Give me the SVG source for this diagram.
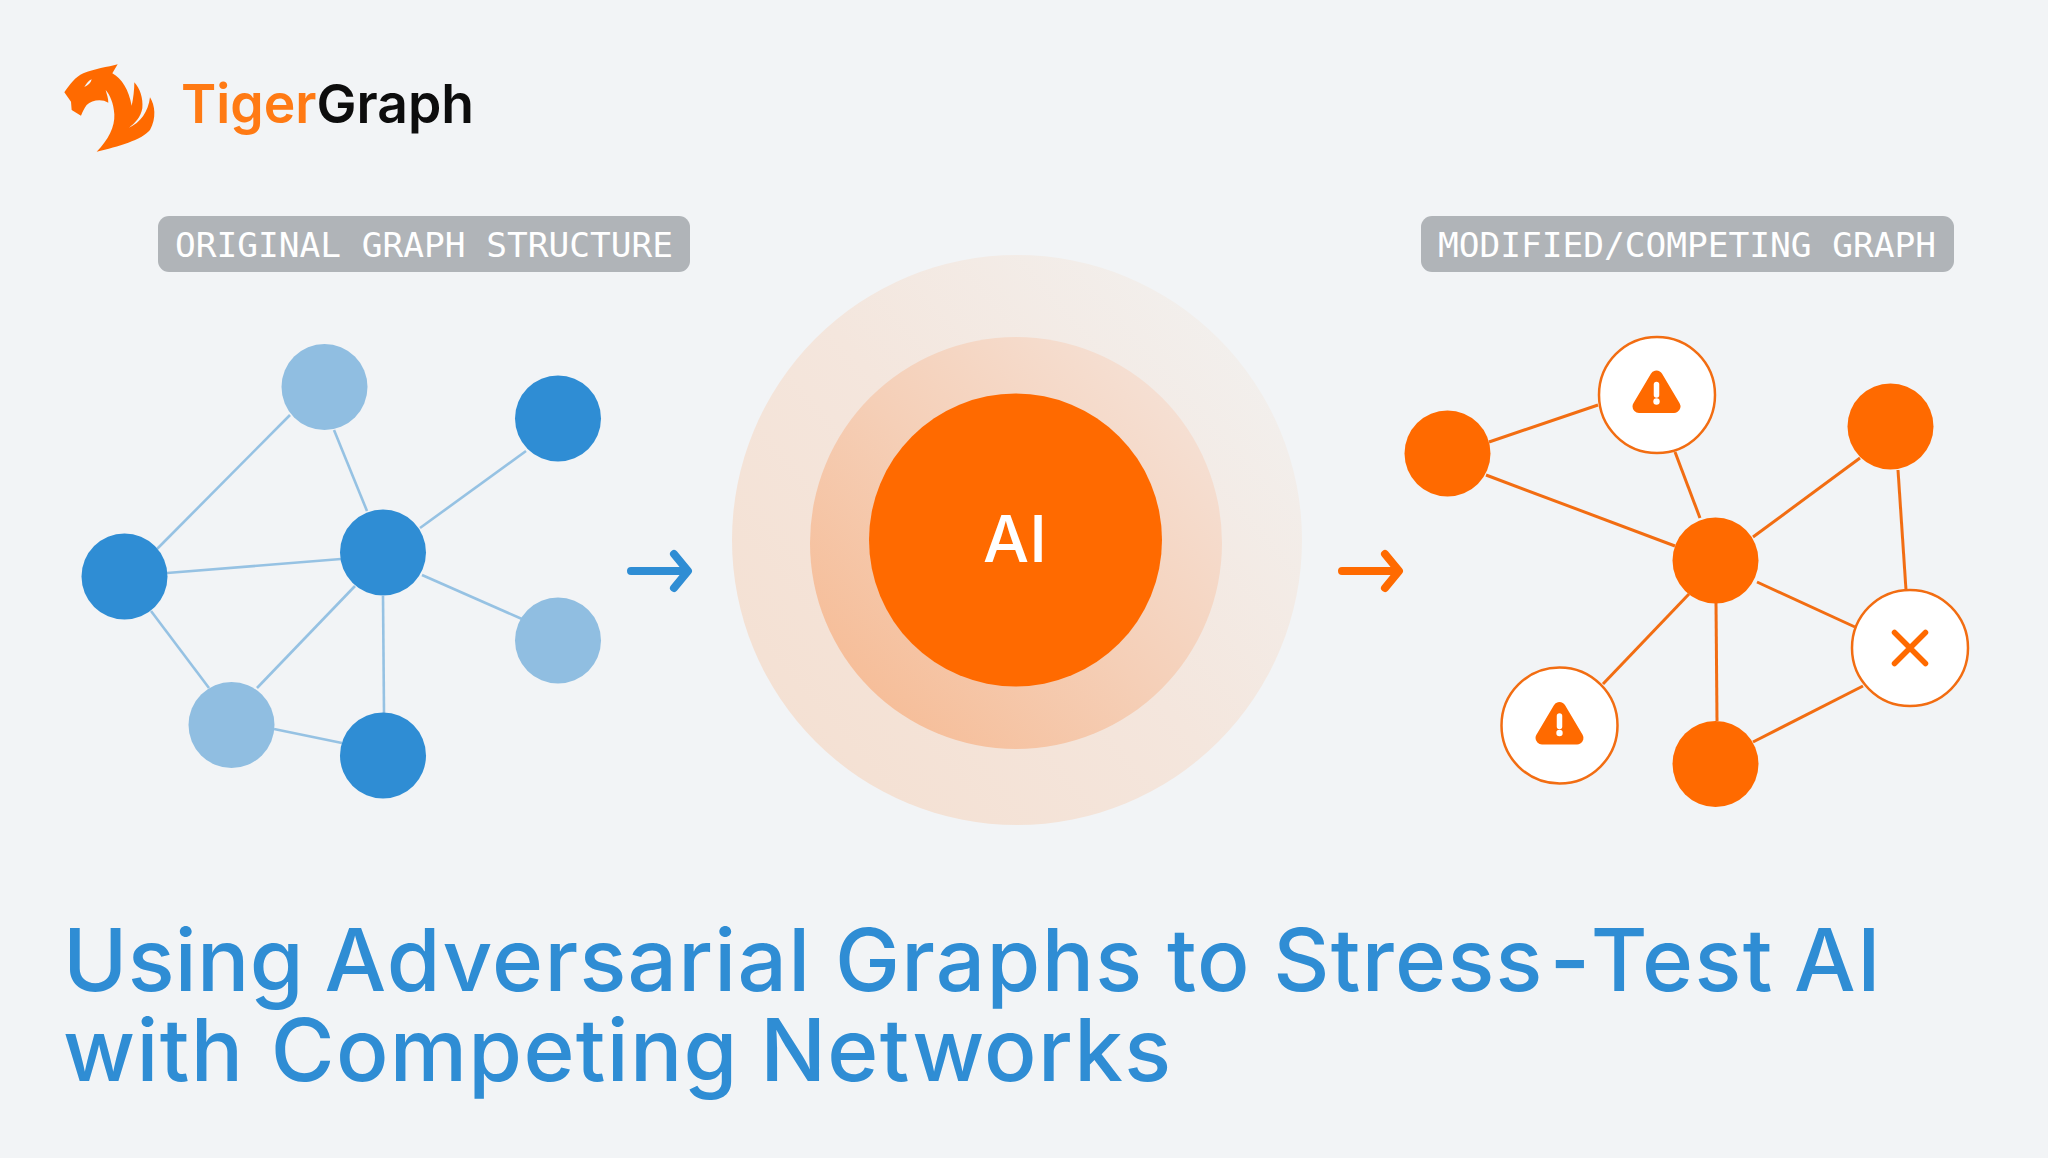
<svg xmlns="http://www.w3.org/2000/svg" xmlns:xlink="http://www.w3.org/1999/xlink" width="2048" height="1158" viewBox="0 0 2048 1158">
<style>
.bg{fill:#f2f4f6}
.dark{fill:#2f8dd4}
.light{fill:#90bee1}
.or{fill:#ff6a00}
.ring{fill:#fff;stroke:#f26d12;stroke-width:2.5}
.bl{stroke:#96c2e3;stroke-width:2.6;fill:none}
.ol{stroke:#f26d12;stroke-width:3;fill:none}
.arrow{fill:none;stroke-width:8;stroke-linecap:round;stroke-linejoin:round}
.tag{fill:#b0b4b8}
.tagt{font-family:"DejaVu Sans Mono",monospace;font-size:34.500px;fill:#fff;font-weight:400}
.title{font-family:Inter,"Liberation Sans",sans-serif;font-size:87px;font-weight:500;fill:#2f8dd4;letter-spacing:1.300px}
</style>
<defs>
<linearGradient id="g1" x1="0.1" y1="0.9" x2="0.95" y2="0.15"><stop offset="0" stop-color="#f4e0d2"/><stop offset="0.5" stop-color="#f4e6dd"/><stop offset="1" stop-color="#f2f0ee"/></linearGradient>
<linearGradient id="g2" x1="0.1" y1="0.9" x2="0.9" y2="0.15"><stop offset="0" stop-color="#f6bc96"/><stop offset="0.5" stop-color="#f5cfb7"/><stop offset="1" stop-color="#f5e0d4"/></linearGradient>
<g id="warn"><path d="M0 -17 L17.500 12.500 L-17.500 12.500 Z" fill="#ff6a00" stroke="#ff6a00" stroke-width="13" stroke-linejoin="round"/><path d="M0 -9.500V1" stroke="#fff" stroke-width="5.500" stroke-linecap="round"/><circle cx="0" cy="7.500" r="3.200" fill="#fff"/></g>
</defs>
<rect class="bg" width="2048" height="1158"/>
<g id="logo">
<path class="or" transform="translate(55 55) scale(.3333)" fill-rule="evenodd" d="M28 112 C45 88 60 66 85 55 C115 42 160 36 188 28 L172 55 C200 70 222 105 230 152 C235 130 238 105 238 82 C255 100 265 130 262 160 C258 185 240 205 222 218 C255 205 280 170 285 127 C300 150 305 190 285 225 C260 255 190 275 125 290 C160 255 180 215 178 178 C176 145 165 120 152 105 C156 120 160 130 160 143 C140 130 110 135 95 150 C88 160 82 172 78 182 L50 165 L48 140 Z M88 96 C95 84 102 76 110 73 C108 84 100 90 88 96 Z"/>
<text x="181" y="123" font-family="Inter,sans-serif" font-size="54" font-weight="600" textLength="293" lengthAdjust="spacingAndGlyphs"><tspan fill="#ff7a14">Tiger</tspan><tspan fill="#0d0d0d">Graph</tspan></text>
</g>
<g id="label-original"><rect class="tag" x="158" y="216" width="532" height="56" rx="11"/><text class="tagt" x="175" y="257" textLength="498">ORIGINAL GRAPH STRUCTURE</text></g>
<g id="label-modified"><rect class="tag" x="1421" y="216" width="533" height="56" rx="11"/><text class="tagt" x="1438" y="257" textLength="498">MODIFIED/COMPETING GRAPH</text></g>
<g id="connectors">
<g class="bl">
<line x1="290" y1="415" x2="157" y2="549"/>
<line x1="334" y1="430" x2="367" y2="511"/>
<line x1="420" y1="528" x2="526" y2="451"/>
<line x1="167" y1="573" x2="341" y2="559"/>
<line x1="151" y1="611" x2="209" y2="688"/>
<line x1="355" y1="586" x2="257" y2="688"/>
<line x1="422" y1="575" x2="522" y2="619"/>
<line x1="383" y1="596" x2="384" y2="713"/>
<line x1="274" y1="729" x2="342" y2="743"/>
</g>
<g class="ol">
<line x1="1489" y1="442" x2="1598" y2="405"/>
<line x1="1486" y1="475" x2="1675" y2="546"/>
<line x1="1675" y1="452" x2="1700" y2="518"/>
<line x1="1753" y1="537" x2="1860" y2="458"/>
<line x1="1898" y1="470" x2="1906" y2="590"/>
<line x1="1757" y1="582" x2="1855" y2="627"/>
<line x1="1689" y1="594" x2="1603" y2="684"/>
<line x1="1716" y1="603" x2="1717" y2="721"/>
<line x1="1753" y1="742" x2="1863" y2="686"/>
</g>
<path class="arrow" stroke="#2f8dd4" d="M631 571H686M674 554L688 571L674 588"/>
<path class="arrow" stroke="#ff6a00" d="M1342 571H1397M1385 554L1399 571L1385 588"/>
</g>
<g id="n-a"><circle class="light" cx="324.500" cy="387" r="43"/></g>
<g id="n-b"><circle class="dark" cx="558" cy="418.500" r="43"/></g>
<g id="n-c"><circle class="dark" cx="124.500" cy="576.500" r="43"/></g>
<g id="n-d"><circle class="dark" cx="383" cy="552.500" r="43"/></g>
<g id="n-e"><circle class="light" cx="558" cy="640.500" r="43"/></g>
<g id="n-f"><circle class="light" cx="231.500" cy="725" r="43"/></g>
<g id="n-g"><circle class="dark" cx="383" cy="755.500" r="43"/></g>
<g id="ai">
<circle cx="1017" cy="540" r="285" fill="url(#g1)"/>
<circle cx="1016" cy="543" r="206" fill="url(#g2)"/>
<circle class="or" cx="1015.500" cy="540" r="146.500"/>
<text x="1015" y="562" text-anchor="middle" font-family="Inter,sans-serif" font-size="65" font-weight="500" fill="#fff">AI</text>
</g>
<g id="m-1"><circle class="or" cx="1447.500" cy="453.500" r="43"/></g>
<g id="m-2"><circle class="ring" cx="1657" cy="395" r="58"/><use xlink:href="#warn" href="#warn" x="1656.500" y="394"/></g>
<g id="m-3"><circle class="or" cx="1890.500" cy="426.500" r="43"/></g>
<g id="m-4"><circle class="or" cx="1715.500" cy="560.500" r="43"/></g>
<g id="m-5"><circle class="ring" cx="1910" cy="648" r="58"/><path d="M1894.500 632.500L1925.500 663.500M1925.500 632.500L1894.500 663.500" stroke="#ff6a00" stroke-width="5.500" stroke-linecap="round"/></g>
<g id="m-6"><circle class="ring" cx="1559.500" cy="725.500" r="58"/><use xlink:href="#warn" href="#warn" x="1559.500" y="725.500"/></g>
<g id="m-7"><circle class="or" cx="1715.500" cy="764" r="43"/></g>
<g id="title">
<text class="title"><tspan x="63" y="991" style="letter-spacing:.3px">Using </tspan><tspan dx="-3">Adversarial </tspan><tspan dx="-1">Graphs </tspan><tspan dx="-1">to </tspan><tspan dx="-2">Stress</tspan><tspan dx="6">-</tspan><tspan dx="6">Test </tspan><tspan dx="-4">AI</tspan><tspan x="63" y="1081">with </tspan><tspan dx="2">Competing </tspan><tspan dx="-3">Networks</tspan></text>
</g>
</svg>
